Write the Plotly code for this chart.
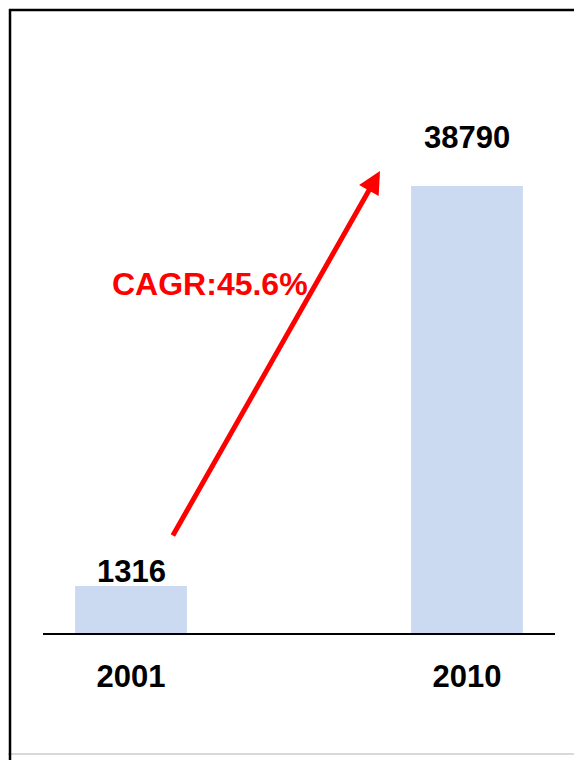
import math
import plotly.graph_objects as go

years = ["2001", "2010"]
values = [1316, 38790]
label_shift = [15, 48]
cagr_label = "CAGR:45.6%"

OFF = 8  # page body margin
W, H = 582 - OFF, 760 - OFF
L, R, T, B = 43 - OFF, 555 - OFF, 40 - OFF, 633 - OFF  # plot area in figure pixels

def px(x):
    return (x - OFF - L) / (R - L)

def py(y):
    return (B - (y - OFF)) / (B - T)

FONT = "Liberation Sans, Arial, sans-serif"

fig = go.Figure(
    go.Bar(
        x=years,
        y=values,
        width=0.333,
        marker=dict(color="#CCDAF1", line=dict(width=0)),
        hoverinfo="x+y",
    )
)

annotations = []
for i, (v, s) in enumerate(zip(values, label_shift)):
    annotations.append(dict(
        x=i, y=math.log10(v), xref="x", yref="y",
        text=str(v), showarrow=False, yanchor="middle", xanchor="center",
        yshift=s,
        font=dict(family=FONT, size=31, color="black", weight="bold"),
    ))

annotations += [
    dict(xref="paper", yref="paper", x=px(380), y=py(171),
         ax=-208, ay=366, axref="pixel", ayref="pixel",
         showarrow=True, arrowhead=2, arrowsize=0.9, arrowwidth=5,
         arrowcolor="#FF0000", text=""),
    dict(xref="paper", yref="paper", x=px(210), y=py(284),
         text=cagr_label, showarrow=False,
         font=dict(family=FONT, size=32, color="#FF0000", weight="bold"),
         xanchor="center", yanchor="middle"),
]

fig.update_layout(
    width=W,
    height=H,
    margin=dict(l=L, r=W - R, t=T, b=H - B),
    paper_bgcolor="white",
    plot_bgcolor="white",
    showlegend=False,
    xaxis=dict(
        type="category",
        range=[-0.262, 1.262],
        showline=True,
        linecolor="black",
        linewidth=2,
        ticks="",
        showgrid=False,
        tickfont=dict(family=FONT, size=31, color="black", weight="bold"),
        ticklabelstandoff=15,
    ),
    yaxis=dict(
        type="log",
        range=[2.9466, 5.125],
        visible=False,
        showgrid=False,
    ),
    shapes=[
        dict(type="rect", xref="paper", yref="paper",
             x0=px(3), x1=px(578), y0=py(754), y1=py(3),
             line=dict(color="#D9D9D9", width=2)),
        dict(type="line", xref="paper", yref="paper",
             x0=px(10), x1=px(10), y0=py(770), y1=py(9),
             line=dict(color="black", width=2.5)),
        dict(type="line", xref="paper", yref="paper",
             x0=px(9), x1=px(590), y0=py(10), y1=py(10),
             line=dict(color="black", width=2.5)),
    ],
    annotations=annotations,
)

fig.write_html("out.html")
